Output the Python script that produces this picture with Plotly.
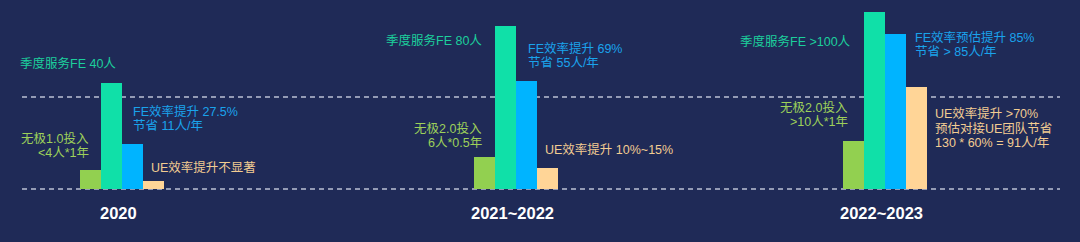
import plotly.graph_objects as go

# ---- data ----
periods = ["2020", "2021~2022", "2022~2023"]
wuji_invest = [19, 32, 48]        # 无极投入 (relative bar height)
fe_service = [106, 163, 177]      # 季度服务FE
fe_eff = [45, 108, 155]           # FE效率提升
ue_eff = [8, 21, 102]             # UE效率提升

wuji_labels = [["无极1.0投入", "<4人*1年"], ["无极2.0投入", "6人*0.5年"], ["无极2.0投入", ">10人*1年"]]
fe_service_labels = [["季度服务FE 40人"], ["季度服务FE 80人"], ["季度服务FE >100人"]]
fe_eff_labels = [["FE效率提升 27.5%", "节省 11人/年"], ["FE效率提升 69%", "节省 55人/年"],
                 ["FE效率预估提升 85%", "节省 > 85人/年"]]
ue_eff_labels = [["UE效率提升不显著"], ["UE效率提升 10%~15%"],
                 ["UE效率提升 >70%", "预估对接UE团队节省", "130 * 60% = 91人/年"]]

# ---- layout constants ----
W, H = 1080, 242
BASE = 189  # pixel row of baseline
group_x = [122, 516, 885]
BW = 21
BG = "#1f2a57"
FONT = "Liberation Sans, Noto Sans CJK SC, sans-serif"
LINE = 15

series = [
    (wuji_invest, "#92d050"),
    (fe_service, "#10e0a8"),
    (fe_eff, "#00b4ff"),
    (ue_eff, "#ffd597"),
]

fig = go.Figure()
for i, (vals, col) in enumerate(series):
    fig.add_trace(go.Bar(
        x=group_x, y=vals, width=BW, offset=-2 * BW + i * BW,
        marker=dict(color=col, line=dict(width=0)),
        hoverinfo="skip", showlegend=False,
    ))

# dashed reference lines
for yv in [BASE - 97, 0]:
    fig.add_shape(type="line", xref="x", yref="y", x0=22, x1=1060, y0=yv, y1=yv,
                  line=dict(color="rgba(215,220,235,0.85)", width=1.5, dash="5px,4px"),
                  layer="below")


def ann(x, ytop, lines, color, xanchor, size=12.5):
    # ytop: pixel row of the first line's centre
    for k, t in enumerate(lines):
        fig.add_annotation(x=x, y=BASE - (ytop + k * LINE), xref="x", yref="y", text=t,
                           showarrow=False, xanchor=xanchor, yanchor="middle",
                           font=dict(family=FONT, size=size, color=color))


C_TEAL = "#1ccf9c"
C_BLUE = "#1aa3ec"
C_GREEN = "#9dd05a"
C_BEIGE = "#f2cc92"

# group 1 (2020)
g = group_x[0]
ann(g - 104, 63, fe_service_labels[0], C_TEAL, "left")
ann(g + 9, 111, fe_eff_labels[0], C_BLUE, "left")
ann(g - 31, 138, wuji_labels[0], C_GREEN, "right")
ann(g + 27, 167, ue_eff_labels[0], C_BEIGE, "left")

# group 2
g = group_x[1]
ann(g - 32, 40, fe_service_labels[1], C_TEAL, "right")
ann(g + 10, 48, fe_eff_labels[1], C_BLUE, "left")
ann(g - 32, 128, wuji_labels[1], C_GREEN, "right")
ann(g + 27, 149, ue_eff_labels[1], C_BEIGE, "left")

# group 3
g = group_x[2]
ann(g - 32, 41, fe_service_labels[2], C_TEAL, "right")
ann(g + 28, 37, fe_eff_labels[2], C_BLUE, "left")
ann(g - 35, 107, wuji_labels[2], C_GREEN, "right")
ann(g + 48, 113, ue_eff_labels[2], C_BEIGE, "left")

# period labels
for gx, p in zip(group_x, periods):
    fig.add_annotation(x=gx - 4, y=BASE - 213, xref="x", yref="y", text="<b>" + p + "</b>",
                       showarrow=False, xanchor="center", yanchor="middle",
                       font=dict(family=FONT, size=16.5, color="#ffffff"))

fig.update_layout(
    width=W, height=H, margin=dict(l=0, r=0, t=0, b=0),
    paper_bgcolor=BG, plot_bgcolor=BG, barmode="overlay", bargap=0,
    xaxis=dict(range=[0, W], visible=False, fixedrange=True),
    yaxis=dict(range=[BASE - H, BASE], visible=False, fixedrange=True),
    font=dict(family=FONT),
)

fig.write_html("out.html", config={"displayModeBar": False})
